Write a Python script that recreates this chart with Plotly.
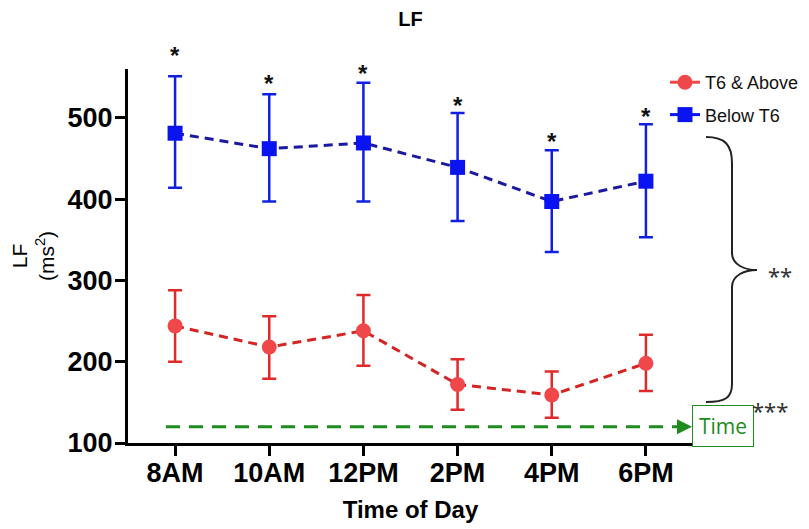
import plotly.graph_objects as go

# ---------------- data ----------------
times = ["8AM", "10AM", "12PM", "2PM", "4PM", "6PM"]

t6_above_mean = [244, 218, 238, 172, 159, 198]
t6_above_upper = [288, 256, 282, 203, 188, 233]
t6_above_lower = [200, 179, 195, 141, 131, 164]

below_t6_mean = [481, 462, 469, 439, 397, 422]
below_t6_upper = [551, 529, 543, 506, 460, 492]
below_t6_lower = [414, 397, 397, 373, 335, 353]

sig_labels = ["*", "*", "*", "*", "*", "*"]
sig_y = [581, 547, 559, 520, 476, 506]

y_ticks = [100, 200, 300, 400, 500]
y_range = [100, 560]
time_arrow_y = 120

# ---------------- layout geometry (screen pixels of the plot area) ----------------
W, H = 809, 529
OFF = 8  # page body margin
X0, X1, Y0, Y1 = 128, 693, 69, 443
L, R, T, B = X0 - OFF, W - (X1 - OFF), Y0 - OFF, H - (Y1 - OFF)


def px(xs):
    return (xs - X0) / (X1 - X0)


def py(ys):
    return (Y1 - ys) / (Y1 - Y0)


def vy(v):
    return (v - y_range[0]) / (y_range[1] - y_range[0])


x_idx = list(range(len(times)))

RED_M = "#F0484A"
RED_L = "#D42525"
BLUE_M = "#0A14F0"
BLUE_L = "#1A1AA0"
GREEN = "#1E8C1E"

fig = go.Figure()

fig.add_trace(go.Scatter(
    x=x_idx, y=t6_above_mean, mode="lines+markers", showlegend=False,
    line=dict(color=RED_L, width=3, dash="9px,6px"),
    marker=dict(symbol="circle", size=15, color=RED_M),
    error_y=dict(type="data", symmetric=False,
                 array=[u - m for u, m in zip(t6_above_upper, t6_above_mean)],
                 arrayminus=[m - l for m, l in zip(t6_above_mean, t6_above_lower)],
                 color="#E02A2A", thickness=2.5, width=7),
    cliponaxis=False,
))

fig.add_trace(go.Scatter(
    x=x_idx, y=below_t6_mean, mode="lines+markers", showlegend=False,
    line=dict(color=BLUE_L, width=3, dash="9px,6px"),
    marker=dict(symbol="square", size=15, color=BLUE_M),
    error_y=dict(type="data", symmetric=False,
                 array=[u - m for u, m in zip(below_t6_upper, below_t6_mean)],
                 arrayminus=[m - l for m, l in zip(below_t6_mean, below_t6_lower)],
                 color="#1020E0", thickness=2.5, width=7),
    cliponaxis=False,
))

# legend-only entries (solid short lines as in reference)
fig.add_trace(go.Scatter(
    x=[None], y=[None], mode="lines+markers", name="T6 & Above", legendgroup="a",
    line=dict(color=RED_M, width=3), marker=dict(symbol="circle", size=15, color=RED_M)))
fig.add_trace(go.Scatter(
    x=[None], y=[None], mode="lines+markers", name="Below T6", legendgroup="b",
    line=dict(color=BLUE_M, width=3), marker=dict(symbol="square", size=15, color=BLUE_M)))

annotations = []
for i, (lab, yv) in enumerate(zip(sig_labels, sig_y)):
    annotations.append(dict(x=i, y=vy(yv), xref="x", yref="paper", text=lab, showarrow=False,
                            font=dict(family="Liberation Sans", size=24, color="#111111",
                                      weight="bold"),
                            yanchor="middle", yshift=-4))

# time arrow head
annotations.append(dict(x=px(692), y=time_arrow_y, xref="paper", yref="y",
                        ax=-16, ay=0, axref="pixel", ayref="pixel",
                        text="", showarrow=True, arrowhead=2, arrowsize=1.2,
                        arrowwidth=2.5, arrowcolor=GREEN))
# Time box
annotations.append(dict(x=px(692), y=py(425.5), xref="paper", yref="paper",
                        xanchor="left", yanchor="middle", text="Time", showarrow=False,
                        font=dict(family="Open Sans", size=21, color=GREEN),
                        bordercolor=GREEN, borderwidth=1, borderpad=6, bgcolor="white"))
# significance between groups
annotations.append(dict(x=px(766), y=py(275), xref="paper", yref="paper",
                        xanchor="left", text="**", showarrow=False,
                        font=dict(family="Noto Sans", size=22, color="#333333")))
annotations.append(dict(x=px(750), y=py(427), xref="paper", yref="paper",
                        xanchor="left", text="***", showarrow=False,
                        font=dict(family="Noto Sans", size=22, color="#333333")))

# brace path in paper coords
pts = [(706, 137), (725, 137), (732, 145), (732, 163), (732, 253), (732, 265), (745, 270),
       (757, 270), (745, 270), (732, 275), (732, 287), (732, 384), (732, 398), (725, 402), (706, 402)]
P = [(px(a), py(b)) for a, b in pts]
path = (f"M {P[0][0]},{P[0][1]} C {P[1][0]},{P[1][1]} {P[2][0]},{P[2][1]} {P[3][0]},{P[3][1]} "
        f"L {P[4][0]},{P[4][1]} C {P[5][0]},{P[5][1]} {P[6][0]},{P[6][1]} {P[7][0]},{P[7][1]} "
        f"C {P[8][0]},{P[8][1]} {P[9][0]},{P[9][1]} {P[10][0]},{P[10][1]} "
        f"L {P[11][0]},{P[11][1]} C {P[12][0]},{P[12][1]} {P[13][0]},{P[13][1]} {P[14][0]},{P[14][1]}")

shapes = [
    dict(type="path", path=path, xref="paper", yref="paper",
         line=dict(color="#222222", width=2)),
    dict(type="line", xref="paper", yref="y", x0=px(166), x1=px(688),
         y0=time_arrow_y, y1=time_arrow_y,
         line=dict(color=GREEN, width=3, dash="14px,9px")),
]

fig.update_layout(
    width=W, height=H,
    margin=dict(l=L, r=R, t=T, b=B, autoexpand=False),
    paper_bgcolor="white", plot_bgcolor="white",
    title=dict(text="<b>LF</b>", x=px(410.5), xref="paper", y=1 - (19 - OFF) / H,
               yanchor="middle",
               font=dict(family="Liberation Sans", size=20, color="black")),
    xaxis=dict(range=[-0.5, 5.5], tickvals=x_idx, ticktext=times,
               showline=True, linecolor="black", linewidth=3,
               ticks="outside", ticklen=4, tickwidth=3, tickcolor="black",
               minor=dict(tickvals=x_idx, ticks="outside", ticklen=10, tickwidth=3,
                          tickcolor="black", showgrid=False),
               showgrid=False, zeroline=False,
               tickfont=dict(family="Liberation Sans", size=27, color="black", weight="bold"),
               title=dict(text="<b>Time of Day</b>", standoff=14,
                          font=dict(family="Liberation Sans", size=24, color="black"))),
    yaxis=dict(range=y_range, tickvals=y_ticks,
               showline=True, linecolor="black", linewidth=3,
               ticks="outside", ticklen=7, tickwidth=3, tickcolor="black",
               minor=dict(tickvals=y_ticks, ticks="outside", ticklen=10, tickwidth=3,
                          tickcolor="black", showgrid=False),
               showgrid=False, zeroline=False,
               tickfont=dict(family="Liberation Sans", size=27, color="black", weight="bold"),
               title=dict(text="LF<br>(ms<sup>2</sup>)", standoff=13,
                          font=dict(family="Liberation Sans", size=21, color="black"))),
    legend=dict(x=px(665), y=py(64), xanchor="left", yanchor="top",
                font=dict(family="Liberation Sans", size=18, color="#111111"),
                tracegroupgap=6, bgcolor="rgba(0,0,0,0)"),
    annotations=annotations,
    shapes=shapes,
)

fig.write_html("out.html")
